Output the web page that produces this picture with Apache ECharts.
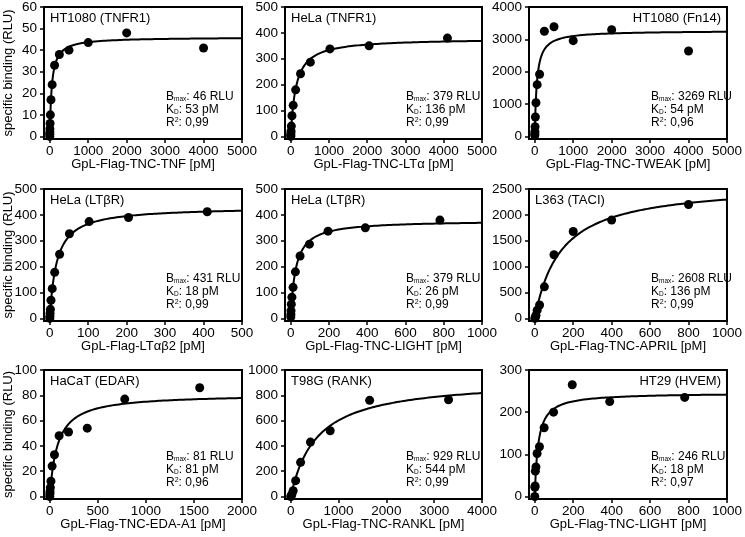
<!DOCTYPE html>
<html><head><meta charset="utf-8">
<script src="https://cdn.jsdelivr.net/npm/echarts@6/dist/echarts.min.js"></script>
<style>html,body{margin:0;padding:0;background:#fff}#c{width:745px;height:537px}</style>
</head><body><div id="c"></div>
<script>
// ---- data ----
const panelTitles = ['HT1080 (TNFR1)','HeLa (TNFR1)','HT1080 (Fn14)','HeLa (LTβR)','HeLa (LTβR)','L363 (TACI)','HaCaT (EDAR)','T98G (RANK)','HT29 (HVEM)'];
const titleSide = ['left','left','right','left','left','left','left','left','right'];
const xAxisTitles = ['GpL-Flag-TNC-TNF [pM]','GpL-Flag-TNC-LTα [pM]','GpL-Flag-TNC-TWEAK [pM]','GpL-Flag-LTαβ2 [pM]','GpL-Flag-TNC-LIGHT [pM]','GpL-Flag-TNC-APRIL [pM]','GpL-Flag-TNC-EDA-A1 [pM]','GpL-Flag-TNC-RANKL [pM]','GpL-Flag-TNC-LIGHT [pM]'];
const yAxisTitle = 'specific binding (RLU)';
const xMaxes = [5000,5000,5000,500,1000,1000,2000,4000,1000];
const xSteps = [1000,1000,1000,100,200,200,500,1000,200];
const yMaxes = [60,500,4000,500,500,2500,100,1000,300];
const ySteps = [10,100,1000,100,100,500,20,200,100];
const bmax = [46,379,3269,431,379,2608,81,929,246];
const kd = [53,136,54,18,26,136,81,544,18];
const r2 = ['0,99','0,99','0,96','0,99','0,99','0,99','0,96','0,99','0,97'];

const p1X = [0,0.98,1.95,3.9,7.8,15.6,31.25,62.5,125,250,500,1000,2000,4000];
const p1Y = [0,1,2,3.5,6,10,17,24,33,38,40,43.5,48,41];
const p2X = [1,2,4,8,16,32,64,128,256,512,1024,2048,4096];
const p2Y = [0,4,10,20,40,80,120,180,242,287,338,350,380];
const p3X = [0.98,1.95,3.9,7.8,15.6,31.25,62.5,125,250,500,1000,2000,4000];
const p3Y = [30,80,150,300,600,1040,1600,1920,3250,3390,2960,3300,2640];
const p4X = [0,0.4,0.8,1.6,3.2,6.4,12.8,25.6,51.2,102.4,204.8,409.6];
const p4Y = [0,8,20,35,70,115,178,248,327,374,390,412];
const p5X = [0.38,0.76,1.5,3,6.1,12.2,24.4,48.8,97.6,195,390,780];
const p5Y = [5,15,30,55,82,120,180,241,287,337,350,380];
const p6X = [0,3.1,6.25,12.5,25,50,100,200,400,800];
const p6Y = [0,20,60,160,260,610,1230,1680,1900,2200];
const p7X = [0,1.5,3,6.1,12.2,24.4,48.8,97.5,195,390,780,1560];
const p7Y = [0,2,4,7,12,24,33,48,51,54,77,86];
const p8X = [0,12.9,25.8,51.5,103,206,412,825,1650,3300];
const p8Y = [0,5,20,45,125,270,430,520,760,765];
const p9X = [0,0.76,1.5,3,6.1,12.2,24.4,48.8,97.6,195,390,780];
const p9Y = [0,22,25,60,70,102,118,163,200,265,225,235];
const pointsX = [p1X,p2X,p3X,p4X,p5X,p6X,p7X,p8X,p9X];
const pointsY = [p1Y,p2Y,p3Y,p4Y,p5Y,p6Y,p7Y,p8Y,p9Y];

// ---- layout ----
const colLeft = [44, 285, 529];
const colWidth = [198, 197, 198];
const rowTop = [7, 189, 370];
const rowHeight = [132, 132, 129];
const FONT = 'Liberation Sans, Arial, sans-serif';

const chart = echarts.init(document.getElementById('c'));
const grids = [], xAxes = [], yAxes = [], series = [], graphics = [];
const plain = v => String(v);

for (let i = 0; i < 9; i++) {
  const r = Math.floor(i / 3), c = i % 3;
  const L = colLeft[c], T = rowTop[r], W = colWidth[c], H = rowHeight[r];
  grids.push({left: L, top: T, width: W, height: H, show: true, borderColor: '#000', borderWidth: 2, backgroundColor: 'transparent'});
  const xt = [], yt = [];
  for (let v = 0; v <= xMaxes[i] + 1e-9; v += xSteps[i]) xt.push(v);
  for (let v = 0; v <= yMaxes[i] + 1e-9; v += ySteps[i]) yt.push(v);
  xAxes.push({
    type: 'value', gridIndex: i, min: -0.03 * xMaxes[i], max: xMaxes[i],
    axisLine: {show: true, onZero: false, lineStyle: {color: '#000', width: 2}},
    axisTick: {show: true, customValues: xt, length: 4, lineStyle: {color: '#000', width: 1.5}},
    axisLabel: {customValues: xt, formatter: plain, color: '#000', fontSize: 13.5, fontFamily: FONT, margin: 5},
    splitLine: {show: false}
  });
  yAxes.push({
    type: 'value', gridIndex: i, min: -0.02 * yMaxes[i], max: yMaxes[i],
    axisLine: {show: true, onZero: false, lineStyle: {color: '#000', width: 2}},
    axisTick: {show: true, customValues: yt, length: 4, lineStyle: {color: '#000', width: 1.5}},
    axisLabel: {customValues: yt, formatter: plain, color: '#000', fontSize: 13.5, fontFamily: FONT, margin: 7},
    splitLine: {show: false}
  });
  // fitted one-site binding curve from the Bmax and KD printed in the panel
  const curve = [];
  for (let k = 0; k <= 400; k++) {
    const x = xMaxes[i] * Math.pow(k / 400, 2);
    curve.push([x, bmax[i] * x / (kd[i] + x)]);
  }
  series.push({type: 'line', xAxisIndex: i, yAxisIndex: i, data: curve, showSymbol: false, symbol: 'none',
    lineStyle: {color: '#000', width: 2}, silent: true, animation: false, z: 2});
  series.push({type: 'scatter', xAxisIndex: i, yAxisIndex: i,
    data: pointsX[i].map((x, k) => [x, pointsY[i][k]]),
    symbol: 'circle', symbolSize: 9, itemStyle: {color: '#000', opacity: 1}, animation: false, z: 3});

  // panel title
  const right = titleSide[i] === 'right';
  graphics.push({type: 'text', silent: true, style: {
    text: panelTitles[i], x: right ? L + W - 6 : L + 6, y: T + 11, align: right ? 'right' : 'left', verticalAlign: 'middle',
    fontSize: 13, fontFamily: FONT, fill: '#000'}});
  // x axis title
  graphics.push({type: 'text', silent: true, style: {
    text: xAxisTitles[i], x: L + W / 2, y: T + H + 25, align: 'center', verticalAlign: 'middle',
    fontSize: 13, fontFamily: FONT, fill: '#000'}});
  // annotations
  const ax = L + W - 76, bottom = T + H;
  const rich = {
    s: {fontSize: 6.5, fontFamily: FONT, fill: '#000', verticalAlign: 'bottom', padding: [4, 0, 0, 0]},
    p: {fontSize: 7, fontFamily: FONT, fill: '#000', verticalAlign: 'top'},
    n: {fontSize: 12, fontFamily: FONT, fill: '#000'}
  };
  const lines = ['{n|B}{s|max}{n|: ' + bmax[i] + ' RLU}', '{n|K}{s|D}{n|: ' + kd[i] + ' pM}', '{n|R}{p|2}{n|: ' + r2[i] + '}'];
  const offs = [42, 29, 16];
  lines.forEach((t, k) => graphics.push({type: 'text', silent: true, style: {
    text: t, x: ax, y: bottom - offs[k], align: 'left', verticalAlign: 'middle', rich: rich,
    fontSize: 12, fontFamily: FONT, fill: '#000'}}));
  if (c === 0) {
    graphics.push({type: 'text', silent: true, rotation: Math.PI / 2, x: 8, y: T + H / 2,
      style: {text: yAxisTitle, x: 0, y: 0, align: 'center', verticalAlign: 'middle', fontSize: 13, fontFamily: FONT, fill: '#000'}});
  }
}

chart.setOption({
  animation: false,
  backgroundColor: '#fff',
  grid: grids, xAxis: xAxes, yAxis: yAxes, series: series, graphic: graphics
});
</script></body></html>
